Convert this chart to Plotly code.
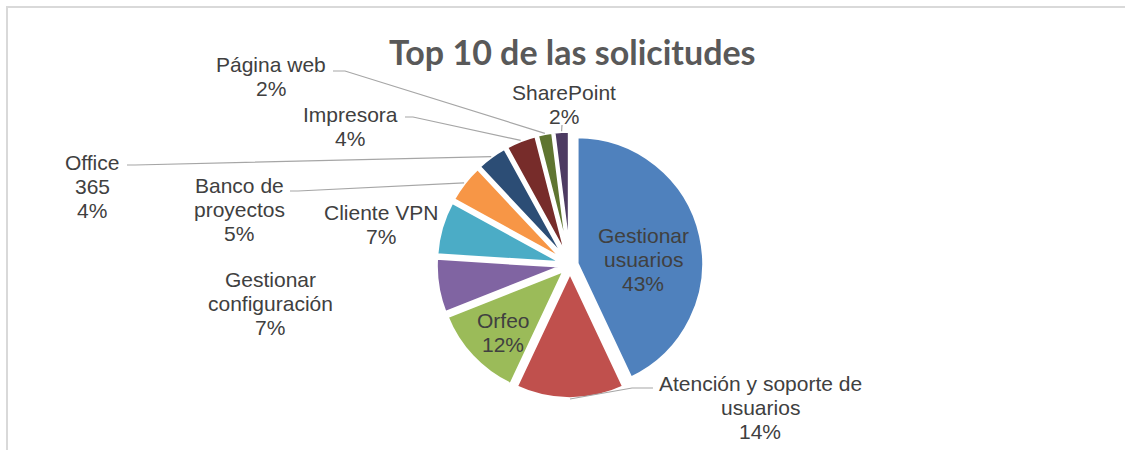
import math

import plotly.graph_objects as go

W, H = 1125, 450

categories = [
    "Gestionar usuarios",
    "Atención y soporte de usuarios",
    "Orfeo",
    "Gestionar configuración",
    "Cliente VPN",
    "Banco de proyectos",
    "Office 365",
    "Impresora",
    "Página web",
    "SharePoint",
]
display_labels = [
    ["Gestionar", "usuarios"],
    ["Atención y soporte de", "usuarios"],
    ["Orfeo"],
    ["Gestionar", "configuración"],
    ["Cliente VPN"],
    ["Banco de", "proyectos"],
    ["Office", "365"],
    ["Impresora"],
    ["Página web"],
    ["SharePoint"],
]
percentages = [43, 14, 12, 7, 7, 5, 4, 4, 2, 2]
colors = ["#4F81BD", "#C0504D", "#9BBB59", "#8064A2", "#4BACC6",
          "#F79646", "#2C4D75", "#772C2A", "#5F7530", "#4D3B62"]

# pie geometry in pixels
CX, CY, R_OUT, PULL = 570, 265, 134, 0.055

# label: centre x, first line y (px), leader line start/elbow (px)
label_pos = [
    (643, 235.5, None),
    (760, 383.5, [(653, 388), (632, 388)]),
    (503, 320.5, None),
    (270, 279.5, None),
    (380.5, 212.5, None),
    (239, 185.5, [(290, 191), (298, 191)]),
    (92, 162.5, [(127, 165), (135, 165)]),
    (350, 114.5, [(405, 117), (413, 117)]),
    (271, 64.5, [(333, 71), (345, 71)]),
    (564, 92.5, [(562, 125)]),
]
LINE_STEP = 24

TEXT = "#404040"
LEADER = "#A6A6A6"
LABEL_FONT = dict(family="Liberation Sans, Arial", size=21, color=TEXT)


def px(x, y):
    return x / W, 1 - y / H


fig = go.Figure(
    go.Pie(
        labels=categories,
        values=percentages,
        sort=False,
        direction="clockwise",
        rotation=0,
        pull=[PULL] * len(percentages),
        marker=dict(colors=colors, line=dict(color="white", width=3.5)),
        textinfo="none",
        hoverinfo="skip",
        showlegend=False,
        domain=dict(
            x=[(CX - R_OUT) / W, (CX + R_OUT) / W],
            y=[1 - (CY + R_OUT) / H, 1 - (CY - R_OUT) / H],
        ),
    )
)

total = sum(percentages)
annotations = []
shapes = [
    dict(type="rect", xref="paper", yref="paper",
         x0=7 / W, y0=1 - 7 / H, x1=1.05, y1=-0.05,
         line=dict(color="#D9D9D9", width=2), fillcolor="rgba(0,0,0,0)", layer="below"),
]

cum = 0
for i, v in enumerate(percentages):
    theta = math.radians(360 * (cum + v / 2) / total)
    cum += v
    lx, ly, leader = label_pos[i]
    lines = display_labels[i] + [f"{round(100 * v / total)}%"]
    for k, line in enumerate(lines):
        ax, ay = px(lx, ly + k * LINE_STEP)
        annotations.append(dict(
            x=ax, y=ay, xref="paper", yref="paper", xanchor="center", yanchor="middle",
            text=line, showarrow=False, font=LABEL_FONT,
        ))
    if leader:
        end = (CX + R_OUT * math.sin(theta), CY - R_OUT * math.cos(theta))
        pts = [px(*p) for p in leader + [end]]
        path = "M " + " L ".join(f"{x:.5f},{y:.5f}" for x, y in pts)
        shapes.append(dict(type="path", xref="paper", yref="paper", path=path,
                           line=dict(color=LEADER, width=1.2)))

tx, ty = px(572, 52)
annotations.append(dict(
    x=tx, y=ty, xref="paper", yref="paper", xanchor="center", yanchor="middle",
    text="<b>Top 10 de las solicitudes</b>", showarrow=False,
    font=dict(family="Lato", size=34, color="#595959"),
))

fig.update_layout(
    width=W,
    height=H,
    margin=dict(t=0, b=0, l=0, r=0),
    paper_bgcolor="white",
    plot_bgcolor="white",
    annotations=annotations,
    shapes=shapes,
)

fig.write_html(
    "out.html",
    config={"displayModeBar": False},
    post_script="document.body.style.margin = '0';",
)
